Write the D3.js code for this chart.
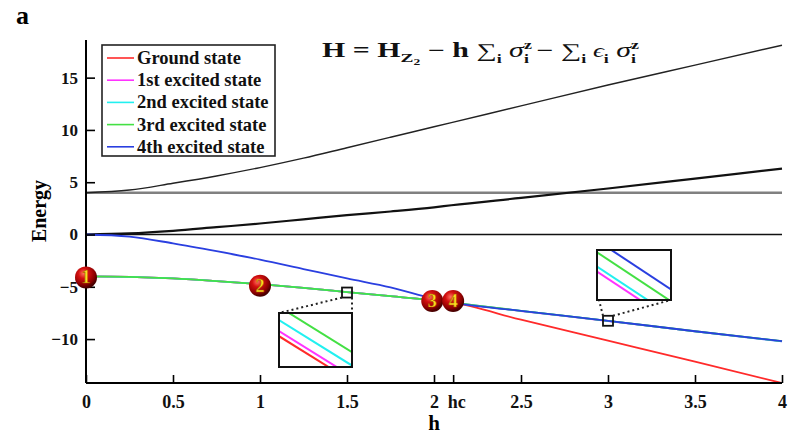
<!DOCTYPE html>
<html>
<head>
<meta charset="utf-8">
<script src="https://cdn.jsdelivr.net/npm/d3@7"></script>
<style>
  body { margin: 0; background: #fff; }
  text { font-family: "Liberation Serif", "Times New Roman", serif; }
</style>
</head>
<body>
<div id="container"></div>
<script>
// field values h and the five lowest levels + the black (higher) levels
var hs       = [0, 0.25, 0.5, 0.75, 1, 1.25, 1.5, 1.75, 2, 2.1, 2.5, 3, 3.5, 4];
var ground   = [-4.0, -4.05, -4.2, -4.45, -4.75, -5.1, -5.5, -5.9, -6.3, -6.5, -8.15, -10.15, -12.15, -14.2];
var excited1 = [-4.0, -4.05, -4.2, -4.45, -4.75, -5.1, -5.5, -5.9, -6.3, -6.5, -7.32, -8.27, -9.27, -10.22];
var excited2 = [-4.0, -4.05, -4.2, -4.45, -4.75, -5.1, -5.5, -5.9, -6.3, -6.5, -7.31, -8.26, -9.26, -10.21];
var excited3 = [-4.0, -4.05, -4.2, -4.45, -4.75, -5.1, -5.5, -5.9, -6.3, -6.5, -7.3, -8.25, -9.25, -10.2];
var excited4 = [0, -0.2, -0.85, -1.6, -2.4, -3.3, -4.2, -5.05, -6.15, -6.5, -7.3, -8.25, -9.25, -10.2];
var upperBlack = [4.0, 4.25, 4.9, 5.6, 6.4, 7.3, 8.3, 9.3, 10.3, 10.7, 12.3, 14.3, 16.2, 18.1];
var lowerBlack = [0, 0.1, 0.35, 0.7, 1.05, 1.45, 1.85, 2.2, 2.6, 2.8, 3.5, 4.4, 5.35, 6.3];
var flatFour = [4, 4, 4, 4, 4, 4, 4, 4, 4, 4, 4, 4, 4, 4];
var flatZero = [0, 0, 0, 0, 0, 0, 0, 0, 0, 0, 0, 0, 0, 0];

var stateNames = ["Ground state", "1st excited state", "2nd excited state", "3rd excited state", "4th excited state"];
var stateColors = ["#ff2a2a", "#ff33ff", "#22f0f0", "#44e044", "#2a3fe0"];
var stateSeries = [ground, excited1, excited2, excited3, excited4];

var hc = 2.11;
var xTicks = [0, 0.5, 1, 1.5, 2, hc, 2.5, 3, 3.5, 4];
var yTicks = [-10, -5, 0, 5, 10, 15];

// numbered points on the lowest branch
var markerH = [0, 1, 1.99, 2.11];
var markerE = [-4.1, -4.9, -6.35, -6.35];
var markerLabels = ["1", "2", "3", "4"];

// zoomed views: relative level offsets (local units, slope shared)
var inset1Levels = [-0.43, -0.336, -0.133, 0.115];
var inset1Colors = ["#ff2a2a", "#ff33ff", "#22f0f0", "#44e044"];
var inset2Levels = [-0.43, -0.33, -0.046, 0.19];
var inset2Colors = ["#ff33ff", "#22f0f0", "#44e044", "#2a3fe0"];

var width = 791, height = 437;
var svg = d3.select("#container").append("svg").attr("width", width).attr("height", height);

var x = d3.scaleLinear().domain([0, 4]).range([86, 782]);
var y = d3.scaleLinear().domain([-14.2, 18.6]).range([383, 40]);

var line = d3.line()
  .x(function(d) { return x(d[0]); })
  .y(function(d) { return y(d[1]); })
  .curve(d3.curveMonotoneX);

function pairs(vals) {
  return hs.map(function(h, i) { return [h, vals[i]]; });
}

// black upper levels
svg.append("path").attr("d", line(pairs(flatFour)))
  .attr("fill", "none").attr("stroke", "#808080").attr("stroke-width", 2.6);
svg.append("path").attr("d", line(pairs(flatZero)))
  .attr("fill", "none").attr("stroke", "#111").attr("stroke-width", 1.6);
svg.append("path").attr("d", line(pairs(upperBlack)))
  .attr("fill", "none").attr("stroke", "#222").attr("stroke-width", 1.4);
svg.append("path").attr("d", line(pairs(lowerBlack)))
  .attr("fill", "none").attr("stroke", "#111").attr("stroke-width", 2.2);

// coloured lowest states
stateSeries.forEach(function(s, i) {
  svg.append("path").attr("d", line(pairs(s)))
    .attr("fill", "none").attr("stroke", stateColors[i]).attr("stroke-width", 1.8);
});

// axes
var xAxis = d3.axisBottom(x).tickValues(xTicks).tickSize(-8).tickPadding(12)
  .tickFormat(function(d) { return d === hc ? "hc" : d3.format("")(d); });
var gx = svg.append("g").attr("transform", "translate(0,383)").call(xAxis);
gx.select(".domain").attr("d", "M86,0H782").attr("stroke-width", 2);
gx.selectAll(".tick line").attr("stroke-width", 1.6);
gx.selectAll(".tick text").attr("font-size", 18).attr("font-weight", "bold")
  .style("font-family", "'Liberation Serif', serif").attr("fill", "#111")
  .attr("dx", function(d) { return d === hc ? 3 : 0; });

var yAxis = d3.axisLeft(y).tickValues(yTicks).tickSize(-9).tickPadding(8);
var gy = svg.append("g").attr("transform", "translate(86,0)").call(yAxis);
gy.select(".domain").attr("d", "M0,40V383").attr("stroke-width", 2);
gy.selectAll(".tick line").attr("stroke-width", 1.6);
gy.selectAll(".tick text").attr("font-size", 17).attr("font-weight", "bold")
  .style("font-family", "'Liberation Serif', serif").attr("fill", "#111");

svg.append("text").attr("x", x(2)).attr("y", 430).attr("text-anchor", "middle")
  .attr("font-size", 21).attr("font-weight", "bold").text("h");
svg.append("text").attr("transform", "translate(46,211) rotate(-90)").attr("text-anchor", "middle")
  .attr("font-size", 20).attr("font-weight", "bold").text("Energy");
svg.append("text").attr("x", 16).attr("y", 24)
  .attr("font-size", 26).attr("font-weight", "bold").text("a");

// legend
var lg = svg.append("g");
lg.append("rect").attr("x", 102).attr("y", 45).attr("width", 173).attr("height", 111)
  .attr("fill", "#fff").attr("stroke", "#222").attr("stroke-width", 1.6);
stateNames.forEach(function(n, i) {
  var yy = 58 + i * 22.2;
  lg.append("line").attr("x1", 107).attr("x2", 134).attr("y1", yy).attr("y2", yy)
    .attr("stroke", stateColors[i]).attr("stroke-width", 1.6);
  lg.append("text").attr("x", 137).attr("y", yy + 6).attr("font-size", 18.5)
    .attr("font-weight", "bold").attr("fill", "#111").text(n);
});

// formula, built piece by piece then stretched to the reference width
var formula = [
  { t: "H = H", s: 20, b: 1 },
  { t: "Z", s: 13, b: 1, dy: 5 },
  { t: "2", s: 9, b: 1, dy: 8 },
  { t: " \u2212 h ", s: 20, b: 1 },
  { t: "\u2211", s: 19 },
  { t: "i", s: 12, b: 1, dy: 6 },
  { t: " \u03c3", s: 20, it: 1 },
  { t: "z", s: 12, b: 1, dy: -8, back: 1 },
  { t: "i", s: 12, b: 1, dy: 6 },
  { t: " \u2212 ", s: 20, b: 1 },
  { t: "\u2211", s: 19 },
  { t: "i", s: 12, b: 1, dy: 6 },
  { t: " \u03f5", s: 18, it: 1 },
  { t: "i", s: 12, b: 1, dy: 6 },
  { t: " \u03c3", s: 20, it: 1 },
  { t: "z", s: 12, b: 1, dy: -8, back: 1 },
  { t: "i", s: 12, b: 1, dy: 6 }
];
var fg = svg.append("g");
var fx = 0;
formula.forEach(function(p) {
  var t = fg.append("text").attr("x", fx).attr("y", p.dy || 0)
    .attr("font-size", p.s).attr("font-weight", p.b ? "bold" : "normal")
    .attr("font-style", p.it ? "italic" : "normal").attr("fill", "#111")
    .style("white-space", "pre").attr("xml:space", "preserve").text(p.t);
  if (!p.back) fx += t.node().getComputedTextLength();
});
var fw = fg.node().getBBox().width;
fg.attr("transform", "translate(322,57) scale(" + (318 / fw) + ",1)");

// zoom squares, connectors and insets
function inset(cfg) {
  var g = svg.append("g");
  var cx = x(cfg.h), cy = y(cfg.e);
  g.append("rect").attr("x", cx - 5).attr("y", cy - 5).attr("width", 10).attr("height", 10)
    .attr("fill", "none").attr("stroke", "#111").attr("stroke-width", 1.8);
  cfg.links.forEach(function(l) {
    g.append("line").attr("x1", cx + l[0]).attr("y1", cy + l[1]).attr("x2", l[2]).attr("y2", l[3])
      .attr("stroke", "#222").attr("stroke-width", 2).attr("stroke-dasharray", "2,3");
  });
  var ix = d3.scaleLinear().domain([0, 1]).range([cfg.box[0], cfg.box[2]]);
  var iy = d3.scaleLinear().domain([0, -1]).range([cfg.box[1], cfg.box[3]]);
  var clipId = "clip" + cfg.id;
  g.append("clipPath").attr("id", clipId).append("rect")
    .attr("x", cfg.box[0]).attr("y", cfg.box[1])
    .attr("width", cfg.box[2] - cfg.box[0]).attr("height", cfg.box[3] - cfg.box[1]);
  g.append("rect").attr("x", cfg.box[0]).attr("y", cfg.box[1])
    .attr("width", cfg.box[2] - cfg.box[0]).attr("height", cfg.box[3] - cfg.box[1])
    .attr("fill", "#fff");
  var lines = g.append("g").attr("clip-path", "url(#" + clipId + ")");
  cfg.levels.forEach(function(c, i) {
    lines.append("line").attr("x1", ix(0)).attr("y1", iy(c)).attr("x2", ix(1)).attr("y2", iy(c - cfg.slope))
      .attr("stroke", cfg.colors[i]).attr("stroke-width", 2);
  });
  g.append("rect").attr("x", cfg.box[0]).attr("y", cfg.box[1])
    .attr("width", cfg.box[2] - cfg.box[0]).attr("height", cfg.box[3] - cfg.box[1])
    .attr("fill", "none").attr("stroke", "#111").attr("stroke-width", 2);
}

inset({ id: 1, h: 1.5, e: -5.55, box: [279, 313, 352, 367], slope: 0.84,
  levels: inset1Levels, colors: inset1Colors,
  links: [[-5, 5, 279, 313], [5, 5, 352, 313]] });
inset({ id: 2, h: 3, e: -8.25, box: [597, 250, 671, 300], slope: 0.98,
  levels: inset2Levels, colors: inset2Colors,
  links: [[-5, -5, 599, 300], [5, -5, 671, 300]] });

// numbered balls
var defs = svg.append("defs");
var grad = defs.append("radialGradient").attr("id", "ball").attr("cx", "38%").attr("cy", "32%").attr("r", "65%");
grad.append("stop").attr("offset", "0%").attr("stop-color", "#ff7060");
grad.append("stop").attr("offset", "35%").attr("stop-color", "#d41010");
grad.append("stop").attr("offset", "80%").attr("stop-color", "#8a0000");
grad.append("stop").attr("offset", "100%").attr("stop-color", "#4a0000");

var balls = svg.selectAll(".ball").data(markerH).enter().append("g").attr("class", "ball")
  .attr("transform", function(d, i) { return "translate(" + x(d) + "," + y(markerE[i]) + ")"; });
balls.append("circle").attr("r", 11).attr("fill", "url(#ball)");
balls.append("text").attr("text-anchor", "middle").attr("dy", 6)
  .attr("font-size", 18).attr("font-weight", "bold").attr("fill", "#ffe020")
  .attr("stroke", "#a05000").attr("stroke-width", 0.5)
  .text(function(d, i) { return markerLabels[i]; });
</script>
</body>
</html>
